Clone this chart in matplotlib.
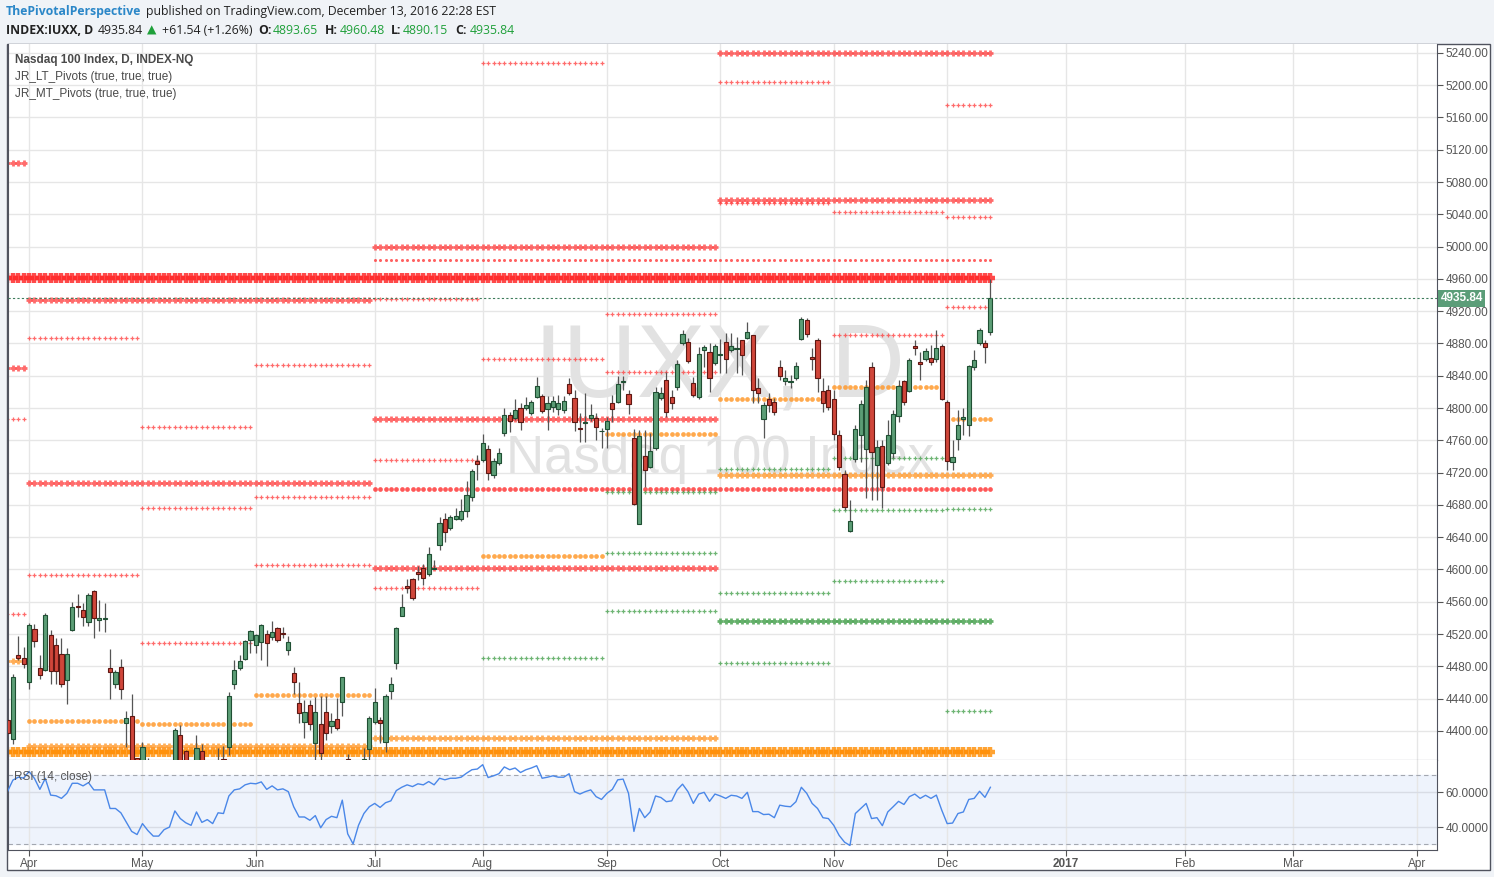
import numpy as np
import matplotlib.pyplot as plt
from matplotlib.patches import Rectangle

plt.rcParams['font.family'] = ['Liberation Sans', 'DejaVu Sans']

# daily bars of the Nasdaq 100, 28 Mar 2016 .. 13 Dec 2016 (bar 0 = 1 Apr 2016)
opens = [4414, 4390, 4494, 4490,
         4461, 4526, 4478, 4476, 4519, 4507, 4495, 4463, 4525, 4555, 4550, 4535, 4573, 4538, 4539, 4478, 4458, 4479, 4410, 4419, 4366,
         4345, 4362, 4332, 4320, 4305, 4330, 4350, 4395, 4375, 4352, 4335, 4375, 4330, 4335, 4332, 4365, 4380, 4458, 4478, 4489, 4513,
         4507, 4510, 4520, 4516, 4528, 4521, 4500, 4472, 4435, 4411, 4432, 4385, 4409, 4424, 4406, 4415, 4436, 4365, 4280, 4255, 4320, 4378,
         4411, 4414, 4386, 4450, 4484, 4542, 4580, 4588, 4597, 4602, 4595, 4601, 4630, 4663, 4652, 4663, 4663, 4672, 4690, 4735,
         4736, 4749, 4717, 4732, 4769, 4792, 4788, 4800, 4800, 4794, 4814, 4815, 4799, 4801, 4799, 4798, 4830, 4813, 4775, 4782, 4788, 4788, 4771,
         4774, 4806, 4808, 4832, 4818, 4763, 4656, 4741, 4727, 4751, 4813, 4835, 4814, 4826, 4881, 4882, 4831, 4814, 4872, 4870, 4856,
         4866, 4882, 4872, 4873, 4884, 4887, 4891, 4825, 4787, 4811, 4808, 4851, 4834, 4832, 4837, 4886, 4909, 4863, 4884, 4821, 4822,
         4811, 4766, 4718, 4648, 4737, 4767, 4749, 4851, 4730, 4753, 4732, 4744, 4790, 4834, 4821, 4877, 4857, 4861, 4862, 4861, 4877,
         4808, 4733, 4762, 4787, 4779, 4851, 4880, 4880, 4893.65]
highs = [4418, 4471, 4518, 4504,
         4534, 4533, 4494, 4546, 4525, 4515, 4515, 4503, 4560, 4570, 4559, 4571, 4574, 4562, 4559, 4502, 4476, 4489, 4425, 4446, 4367,
         4386, 4367, 4345, 4338, 4340, 4355, 4404, 4407, 4376, 4360, 4395, 4384, 4356, 4350, 4379, 4381, 4448, 4488, 4494, 4513, 4525,
         4520, 4533, 4525, 4536, 4529, 4529, 4518, 4479, 4461, 4438, 4438, 4442, 4443, 4443, 4422, 4441, 4467, 4372, 4290, 4305, 4379, 4419,
         4453, 4417, 4446, 4467, 4529, 4570, 4588, 4590, 4604, 4607, 4628, 4612, 4665, 4670, 4668, 4676, 4687, 4710, 4725, 4742,
         4768, 4754, 4738, 4751, 4800, 4795, 4811, 4806, 4814, 4810, 4839, 4818, 4815, 4815, 4816, 4815, 4837, 4822, 4794, 4819, 4805, 4794, 4775,
         4789, 4816, 4840, 4840, 4822, 4774, 4773, 4773, 4769, 4826, 4826, 4845, 4822, 4860, 4897, 4887, 4839, 4876, 4878, 4881, 4879,
         4886, 4893, 4893, 4888, 4884, 4906, 4891, 4837, 4808, 4819, 4813, 4860, 4847, 4841, 4857, 4913, 4912, 4875, 4887, 4837, 4829,
         4822, 4773, 4723, 4686, 4779, 4810, 4835, 4857, 4761, 4761, 4785, 4798, 4835, 4835, 4862, 4884, 4870, 4875, 4878, 4897, 4879,
         4810, 4761, 4798, 4800, 4853, 4872, 4899, 4884, 4960.48]
lows = [4391, 4384, 4488, 4478,
        4452, 4504, 4464, 4474, 4458, 4458, 4454, 4433, 4524, 4541, 4530, 4530, 4515, 4524, 4523, 4440, 4453, 4440, 4380, 4340, 4310,
        4335, 4320, 4305, 4300, 4295, 4322, 4348, 4355, 4330, 4325, 4332, 4325, 4315, 4310, 4330, 4352, 4370, 4452, 4476, 4488, 4497,
        4497, 4488, 4481, 4513, 4510, 4515, 4494, 4446, 4410, 4391, 4401, 4360, 4355, 4389, 4397, 4401, 4419, 4280, 4220, 4250, 4318, 4360,
        4408, 4385, 4374, 4440, 4477, 4542, 4571, 4562, 4587, 4581, 4592, 4600, 4624, 4634, 4649, 4661, 4660, 4665, 4685, 4711,
        4733, 4711, 4713, 4730, 4765, 4770, 4785, 4773, 4798, 4792, 4813, 4794, 4773, 4795, 4792, 4794, 4816, 4772, 4758, 4758, 4784, 4761, 4751,
        4751, 4783, 4806, 4822, 4793, 4680, 4656, 4702, 4726, 4748, 4810, 4789, 4799, 4822, 4878, 4856, 4814, 4811, 4851, 4820, 4853,
        4844, 4844, 4870, 4844, 4841, 4886, 4806, 4806, 4763, 4795, 4792, 4835, 4829, 4825, 4835, 4884, 4888, 4847, 4820, 4795, 4798,
        4761, 4723, 4674, 4647, 4733, 4733, 4689, 4686, 4686, 4676, 4730, 4738, 4783, 4804, 4820, 4866, 4835, 4858, 4853, 4857, 4810,
        4723, 4723, 4748, 4767, 4765, 4847, 4878, 4856, 4890.15]
closes = [4398, 4467, 4490, 4483,
          4531, 4511, 4469, 4544, 4474, 4474, 4458, 4495, 4554, 4553, 4541, 4569, 4540, 4540, 4540, 4473, 4473, 4452, 4416, 4350, 4341,
          4380, 4330, 4315, 4314, 4330, 4345, 4401, 4360, 4350, 4330, 4379, 4335, 4342, 4325, 4362, 4358, 4443, 4476, 4487, 4512, 4524,
          4519, 4531, 4509, 4523, 4513, 4520, 4510, 4461, 4422, 4424, 4409, 4424, 4373, 4397, 4412, 4404, 4467, 4285, 4230, 4300, 4365, 4416,
          4436, 4410, 4443, 4458, 4528, 4554, 4577, 4565, 4595, 4590, 4619, 4602, 4658, 4647, 4665, 4666, 4673, 4692, 4722, 4731,
          4757, 4720, 4735, 4744, 4792, 4784, 4797, 4783, 4804, 4808, 4827, 4796, 4806, 4809, 4806, 4809, 4819, 4783, 4774, 4783, 4792, 4777, 4772,
          4784, 4799, 4830, 4833, 4805, 4681, 4765, 4723, 4747, 4820, 4819, 4795, 4806, 4855, 4892, 4858, 4816, 4867, 4876, 4837, 4877,
          4867, 4861, 4877, 4874, 4866, 4894, 4822, 4819, 4804, 4804, 4795, 4840, 4837, 4833, 4852, 4910, 4892, 4861, 4837, 4806, 4801,
          4768, 4727, 4678, 4660, 4774, 4805, 4826, 4746, 4752, 4702, 4766, 4793, 4827, 4808, 4860, 4875, 4855, 4871, 4857, 4875, 4811,
          4735, 4739, 4779, 4789, 4852, 4860, 4897, 4876, 4935.84]
rsi = [60.4, 67, 68.7, 68.2,
       72, 68, 61.7, 68, 58.4, 58, 56.5, 59.4, 65.2, 65.2, 63.7, 65.6, 61.4, 61.4, 61.4, 50.7, 50.7, 48.2, 42.9, 37.5, 35.7,
       42, 38, 34.8, 34.8, 38.5, 40, 49.3, 44.9, 42.5, 41, 48.7, 42.7, 44.3, 42, 48.2, 47.8, 57.9, 61.4, 62, 64.3, 65.2,
       64.9, 66, 61.7, 63.7, 61.4, 62, 60.4, 51.7, 45.8, 45.8, 43.9, 46.6, 39.6, 44.3, 46.2, 45.4, 55.5, 36.1, 30.3, 41, 47.8, 51.7,
       53.6, 51.3, 54, 55.1, 61, 62.9, 64.3, 63.3, 64.9, 64.3, 66.2, 64.3, 68.1, 67.2, 68.1, 68.1, 68.7, 71, 73, 73.4,
       75.9, 68.5, 69.5, 70.7, 74.6, 73, 74, 71.4, 73, 74, 75.3, 68.1, 68.7, 69.5, 68.7, 68.7, 70.7, 60.4, 59, 60.4, 61.4, 57.5, 55.9,
       59.4, 61.7, 67.2, 67.6, 59.4, 37.5, 50.7, 45.4, 48.7, 57.9, 57, 54.6, 55.1, 61.4, 64.7, 60.4, 53.6, 59, 60, 54.8, 59,
       57.9, 56.5, 58.3, 57.9, 56.5, 60, 48.9, 48.9, 47.2, 47.4, 45.4, 52.6, 52, 51.7, 54.6, 62.9, 59.4, 53.6, 50.7, 45.4, 44.9,
       41, 35.2, 31.3, 29.4, 47.8, 50.7, 53.6, 44.9, 45.4, 40.8, 48.7, 51.7, 54.8, 53, 57.5, 59, 56.5, 58.3, 56.5, 58.4, 49.7,
       42, 42.3, 47.8, 48.7, 55.9, 56.5, 60.6, 57.1, 62.9]
first_bar = -4
last_price = 4935.84

# month tick marks (bar numbers, future part keeps counting weekdays)
month_labels = ['Apr', 'May', 'Jun', 'Jul', 'Aug', 'Sep', 'Oct', 'Nov', 'Dec', '2017', 'Feb', 'Mar', 'Apr']
month_bars = [0, 21, 42, 64, 84, 107, 128, 149, 170, 192, 214, 234, 257]

# periods the pivots are valid for (first bar, last bar)
MAR = (-4, -1); APR = (0, 20); MAY = (21, 41); JUN = (42, 63); JUL = (64, 83); AUG = (84, 106)
SEP = (107, 127); OCT = (128, 148); NOV = (149, 169); DEC = (170, 178)
Q1 = MAR; Q2 = (0, 63); Q3 = (64, 127); Q4 = (128, 178); Q34 = (64, 178); YEAR = (-4, 178)

# JR_LT_Pivots (quarterly / yearly) and JR_MT_Pivots (monthly)
red_year = [(4961, YEAR)]
red_lt = [(5240, Q4), (5104, Q1), (5058, Q4), (5000, Q3), (4934, Q2), (4850, Q1), (4787, Q3), (4707, Q2), (4602, Q3)]
red_round = [(4700, Q34)]
red_fine = [(4983, Q34)]
red_mt = [(5228, AUG), (5204, OCT), (5054, OCT), (5176, DEC), (5043, NOV), (5037, DEC), (4935, JUL), (4925, DEC),
          (4916, SEP), (4890, NOV), (4887, APR), (4861, AUG), (4853, JUN), (4845, SEP), (4787, MAR), (4777, MAY),
          (4736, JUL), (4690, JUN), (4676, MAY), (4606, JUN), (4593, APR), (4577, JUL), (4545, MAR), (4509, MAY)]
orange_year = [(4374, YEAR)]
orange_lt = [(4717, Q4), (4487, Q1), (4391, Q3), (4381, Q2)]
orange_round = [(4826, NOV), (4811, OCT), (4787, DEC), (4768, SEP), (4617, AUG), (4445, JUN), (4412, APR), (4408, MAY)]
green_lt = [(4536, Q4)]
green_mt = [(4738, NOV), (4725, OCT), (4696, SEP), (4674, NOV), (4675, DEC), (4620, SEP), (4586, NOV), (4571, OCT),
            (4549, SEP), (4490, AUG), (4484, OCT), (4425, DEC)]

W, H = 1494, 877
fig = plt.figure(figsize=(W / 100, H / 100), dpi=100, facecolor='#f0f3f7')
frame = Rectangle((7 / W, 1 - 870 / H), 1483 / W, 826 / H, transform=fig.transFigure,
                  facecolor='white', edgecolor='#50535e', lw=1.0, zorder=-5)
fig.add_artist(frame)

ax = fig.add_axes([8 / W, 1 - 760 / H, 1429 / W, 716 / H])
ar = fig.add_axes([8 / W, 1 - 850 / H, 1429 / W, 90 / H])

x = np.arange(first_bar, first_bar + len(closes))
o = np.array(opens, float); h = np.array(highs, float)
l = np.array(lows, float); c = np.array(closes, float)

# watermark
ax.text(0.498, 0.545, 'IUXX, D', transform=ax.transAxes, ha='center', va='center',
        fontsize=74, color='#e2e2e2', zorder=1)
ax.text(0.498, 0.420, 'Nasdaq 100 Index', transform=ax.transAxes, ha='center', va='center',
        fontsize=38, color='#e2e2e2', zorder=1)


def pivots(rows, color, marker, ms, mew, alpha):
    for level, (s, e) in rows:
        xs = np.arange(s, e + 1)
        ax.plot(xs, np.full(len(xs), level), ls='none', marker=marker, ms=ms, mew=mew,
                color=color, alpha=alpha, zorder=2)


pivots(red_year, '#ff2a2a', '+', 7.5, 3.2, 0.85)
pivots(red_lt, '#ff3b3b', '+', 5, 2.0, 0.75)
pivots(red_round, '#ff3b3b', 'o', 3.4, 0, 0.85)
pivots(red_fine, '#ff3b3b', 'o', 2.2, 0, 0.8)
pivots(red_mt, '#ff3b3b', '+', 2.4, 0.9, 0.75)
pivots(orange_year, '#ff8c00', '+', 7.5, 3.2, 0.8)
pivots(orange_lt, '#ff9a2e', '+', 5, 2.0, 0.8)
pivots(orange_round, '#ff9a2e', 'o', 3.4, 0, 0.85)
pivots(green_lt, '#3f9d46', '+', 5, 2.0, 0.8)
pivots(green_mt, '#3f9d46', '+', 2.4, 0.9, 0.75)

# candles
up = c >= o
ax.vlines(x, l, h, color='#555555', lw=0.9, zorder=3)
body = np.maximum(np.abs(c - o), 0.8)
ax.bar(x[up], body[up], bottom=o[up], width=0.78, color='#5c9e76', edgecolor='#1f4f33', lw=0.8, zorder=4)
ax.bar(x[~up], body[~up], bottom=c[~up], width=0.78, color='#d0463a', edgecolor='#5e1712', lw=0.8, zorder=4)

# last price
ax.axhline(last_price, color='#3f7d5c', ls=(0, (2, 2)), lw=0.8, zorder=5)
ax.text(1.0024, last_price, f'{last_price:.2f}', transform=ax.get_yaxis_transform(), ha='left', va='center',
        fontsize=8.5, color='white', fontweight='bold', zorder=10, clip_on=False,
        bbox=dict(boxstyle='square,pad=0.22', fc='#5b9d78', ec='none'))

ax.set_xlim(-3.9, 260.7)
ax.set_ylim(4364, 5251)
ax.set_xticks(month_bars)
ax.set_yticks(np.arange(4400, 5241, 40))
ax.yaxis.set_major_formatter(plt.FormatStrFormatter('%.2f'))
ax.yaxis.tick_right()
ax.tick_params(axis='x', length=0, labelbottom=False)
ax.tick_params(axis='y', length=4, color='#555555', labelsize=8.5, labelcolor='#555555', pad=2)
ax.grid(True, color='#e6e6e6', lw=1)
ax.set_axisbelow(True)
for side in ['left', 'right', 'bottom']:
    ax.spines[side].set_color('#50535e')
ax.spines['top'].set_visible(False)

# legend texts
ax.text(0.005, 0.978, 'Nasdaq 100 Index, D, INDEX-NQ', transform=ax.transAxes, fontsize=8.5,
        fontweight='bold', color='#4a4a4a', va='center', zorder=11)
ax.text(0.005, 0.954, 'JR_LT_Pivots (true, true, true)', transform=ax.transAxes, fontsize=8.5,
        color='#4a4a4a', va='center', zorder=11)
ax.text(0.005, 0.930, 'JR_MT_Pivots (true, true, true)', transform=ax.transAxes, fontsize=8.5,
        color='#4a4a4a', va='center', zorder=11)

# RSI pane
ar.axhspan(30, 70, color='#eef3fc', zorder=0)
ar.axhline(70, color='#a3a7b0', ls=(0, (4, 3)), lw=0.8, zorder=1)
ar.axhline(30, color='#a3a7b0', ls=(0, (4, 3)), lw=0.8, zorder=1)
ar.plot(x, rsi, color='#4a87e8', lw=1.0, zorder=3)
ar.set_xlim(-3.9, 260.7)
ar.set_ylim(26.8, 78.6)
ar.set_yticks([40, 60])
ar.set_yticklabels(['40.0000', '60.0000'])
ar.yaxis.tick_right()
ar.set_xticks(month_bars)
ar.set_xticklabels(month_labels)
ar.get_xticklabels()[9].set_fontweight('bold')
ar.tick_params(axis='y', length=4, color='#555555', labelsize=8.5, labelcolor='#555555', pad=2)
ar.tick_params(axis='x', length=4, color='#555555', labelsize=8.5, labelcolor='#555555', pad=2)
ar.grid(True, axis='x', color='#e6e6e6', lw=1)
ar.grid(True, axis='y', color='#d8dce5', lw=1)
ar.set_axisbelow(True)
for side in ['left', 'right', 'bottom']:
    ar.spines[side].set_color('#50535e')
ar.spines['top'].set_visible(False)
ar.text(0.004, 0.81, 'RSI (14, close)', transform=ar.transAxes, fontsize=8.5, color='#555555',
        va='center', zorder=5)

# header
hf = ['Open Sans', 'DejaVu Sans']


def head(px, py, s, color='#222222', weight='normal'):
    fig.text(px / W, 1 - py / H, s, color=color, fontweight=weight, fontsize=8.8,
             va='center', ha='left', family=hf)


head(6, 11.5, 'ThePivotalPerspective', '#2b87c8', 'bold')
head(146, 11.5, 'published on TradingView.com, December 13, 2016 22:28 EST')
green = '#1fa03a'
head(6, 30, 'INDEX:IUXX, D', weight='bold')
head(98, 30, '4935.84')
head(147, 30, '\u25b2', green)
head(162, 30, '+61.54 (+1.26%)')
head(258, 30, 'O:', weight='bold'); head(273, 30, '4893.65', green)
head(325, 30, 'H:', weight='bold'); head(340, 30, '4960.48', green)
head(391, 30, 'L:', weight='bold'); head(403, 30, '4890.15', green)
head(455, 30, 'C:', weight='bold'); head(470, 30, '4935.84', green)

plt.savefig('out.png', dpi=100, facecolor=fig.get_facecolor())
